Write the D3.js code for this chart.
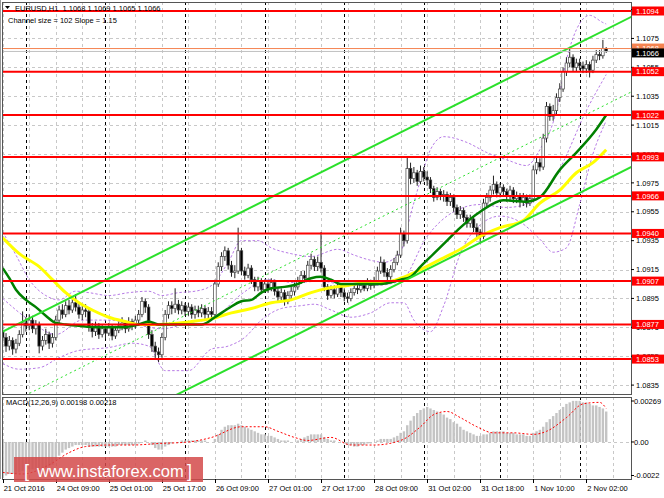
<!DOCTYPE html>
<html>
<head>
<meta charset="utf-8">
<script src="https://cdn.jsdelivr.net/npm/d3@7"></script>
<style>
body { margin: 0; background: #fff; }
svg { display: block; font-family: "Liberation Sans", Arial, sans-serif; }
.pre { white-space: pre; }
</style>
</head>
<body>
<div id="chart"></div>
<script>
// EURUSD H1 candles, bar 0 = 21 Oct 17:00
const firstOpen = 1.0872;
const close = [
  1.0868,1.0862,1.0866,1.0860,1.0864,1.0870,1.0878,1.0876,1.0880,1.0874,
  1.0877,1.0862,1.0866,1.0870,1.0864,1.0868,1.0880,1.0887,1.0884,1.0890,
  1.0887,1.0892,1.0889,1.0884,1.0887,1.0886,1.0875,1.0872,1.0876,1.0870,
  1.0874,1.0871,1.0875,1.0869,1.0873,1.0876,1.0878,1.0874,1.0879,1.0876,
  1.0880,1.0884,1.0893,1.0889,1.0870,1.0862,1.0858,1.0856,1.0868,1.0884,
  1.0890,1.0888,1.0891,1.0887,1.0890,1.0886,1.0889,1.0884,1.0887,1.0885,
  1.0888,1.0884,1.0886,1.0884,1.0905,1.0917,1.0924,1.0928,1.0918,1.0913,
  1.0914,1.0928,1.0914,1.0911,1.0916,1.0908,1.0903,1.0907,1.0901,1.0905,
  1.0902,1.0906,1.0900,1.0896,1.0899,1.0893,1.0897,1.0900,1.0903,1.0907,
  1.0911,1.0909,1.0918,1.0922,1.0917,1.0920,1.0916,1.0903,1.0897,1.0901,
  1.0898,1.0903,1.0899,1.0896,1.0895,1.0899,1.0902,1.0901,1.0904,1.0902,
  1.0906,1.0904,1.0907,1.0914,1.0920,1.0913,1.0910,1.0915,1.0920,1.0925,
  1.0940,1.0935,1.0985,1.0978,1.0982,1.0976,1.0983,1.0979,1.0977,1.0971,
  1.0965,1.0969,1.0966,1.0967,1.0962,1.0965,1.0958,1.0953,1.0956,1.0951,
  1.0947,1.0950,1.0944,1.0941,1.0938,1.0961,1.0965,1.0970,1.0974,1.0968,
  1.0972,1.0969,1.0966,1.0970,1.0964,1.0966,1.0962,1.0965,1.0961,1.0964,
  1.0984,1.0989,1.0986,1.1006,1.1028,1.1021,1.1025,1.1034,1.1040,1.1052,
  1.1058,1.1062,1.1055,1.1058,1.1056,1.1054,1.1057,1.1053,1.1060,1.1064,
  1.1063,1.1068,1.1066
];
const high = [
  1.0875,1.0871,1.0869,1.0868,1.0867,1.0873,1.0886,1.0882,1.0884,1.0883,
  1.0880,1.0879,1.0869,1.0874,1.0872,1.0871,1.0883,1.0890,1.0891,1.0893,
  1.0894,1.0895,1.0898,1.0892,1.0890,1.0891,1.0889,1.0878,1.0879,1.0878,
  1.0877,1.0876,1.0878,1.0877,1.0876,1.0879,1.0882,1.0880,1.0882,1.0881,
  1.0883,1.0887,1.0896,1.0895,1.0891,1.0873,1.0865,1.0861,1.0871,1.0887,
  1.0893,1.0893,1.0902,1.0894,1.0893,1.0892,1.0892,1.0891,1.0890,1.0890,
  1.0891,1.0890,1.0889,1.0889,1.0908,1.0920,1.0927,1.0931,1.0930,1.0921,
  1.0918,1.0944,1.0930,1.0917,1.0919,1.0918,1.0910,1.0910,1.0909,1.0908,
  1.0908,1.0909,1.0908,1.0902,1.0902,1.0901,1.0900,1.0903,1.0906,1.0910,
  1.0914,1.0914,1.0921,1.0926,1.0924,1.0924,1.0941,1.0918,1.0905,1.0904,
  1.0904,1.0906,1.0905,1.0902,1.0899,1.0902,1.0905,1.0905,1.0907,1.0906,
  1.0909,1.0908,1.0910,1.0917,1.0924,1.0922,1.0916,1.0918,1.0923,1.0928,
  1.0944,1.0942,1.0993,1.0989,1.0986,1.0984,1.0987,1.0986,1.0983,1.0979,
  1.0973,1.0972,1.0971,1.0970,1.0969,1.0968,1.0967,1.0960,1.0959,1.0958,
  1.0953,1.0953,1.0952,1.0947,1.0943,1.0964,1.0968,1.0973,1.0980,1.0976,
  1.0975,1.0974,1.0971,1.0973,1.0972,1.0969,1.0968,1.0968,1.0967,1.0967,
  1.0987,1.0993,1.0992,1.1009,1.1031,1.1030,1.1029,1.1037,1.1044,1.1055,
  1.1062,1.1069,1.1064,1.1061,1.1061,1.1059,1.1060,1.1059,1.1063,1.1067,
  1.1067,1.1074,1.1069
];
const low = [
  1.0864,1.0858,1.0859,1.0856,1.0857,1.0862,1.0868,1.0872,1.0873,1.0871,
  1.0870,1.0857,1.0859,1.0863,1.0860,1.0861,1.0866,1.0878,1.0881,1.0882,
  1.0884,1.0885,1.0886,1.0881,1.0880,1.0882,1.0872,1.0868,1.0869,1.0867,
  1.0868,1.0867,1.0869,1.0866,1.0867,1.0871,1.0873,1.0871,1.0872,1.0873,
  1.0874,1.0877,1.0882,1.0885,1.0867,1.0858,1.0853,1.0851,1.0854,1.0866,
  1.0881,1.0884,1.0885,1.0884,1.0884,1.0883,1.0883,1.0881,1.0881,1.0882,
  1.0882,1.0881,1.0881,1.0880,1.0882,1.0903,1.0914,1.0921,1.0915,1.0910,
  1.0909,1.0912,1.0911,1.0908,1.0909,1.0905,1.0900,1.0900,1.0898,1.0899,
  1.0899,1.0900,1.0897,1.0892,1.0893,1.0890,1.0891,1.0894,1.0897,1.0901,
  1.0905,1.0906,1.0907,1.0915,1.0914,1.0914,1.0913,1.0900,1.0894,1.0895,
  1.0895,1.0896,1.0896,1.0893,1.0892,1.0893,1.0897,1.0898,1.0899,1.0900,
  1.0900,1.0901,1.0902,1.0905,1.0912,1.0910,1.0907,1.0908,1.0913,1.0918,
  1.0923,1.0931,1.0933,1.0974,1.0975,1.0973,1.0974,1.0976,1.0973,1.0968,
  1.0962,1.0963,1.0963,1.0962,1.0959,1.0959,1.0955,1.0950,1.0950,1.0948,
  1.0944,1.0944,1.0941,1.0937,1.0933,1.0936,1.0958,1.0962,1.0967,1.0965,
  1.0965,1.0966,1.0962,1.0963,1.0961,1.0961,1.0958,1.0959,1.0958,1.0959,
  1.0962,1.0981,1.0983,1.0984,1.1003,1.1018,1.1018,1.1022,1.1031,1.1038,
  1.1049,1.1055,1.1052,1.1052,1.1053,1.1051,1.1051,1.1048,1.1051,1.1058,
  1.1060,1.1061,1.1065
];

// moving averages and bollinger bands, read as [bar, price]
const maGreen = [[0,1.0916],[2,1.0909],[4,1.0901],[7,1.0894],[10,1.0889],[13,1.0883],[16,1.0878],[19,1.0877],
  [23,1.0876],[29,1.0875],[35,1.0875],[41,1.0877],[44,1.0879],[47,1.0877],[52,1.0877],[60,1.0877],[64,1.0882],
  [68,1.0888],[72,1.0893],[75,1.0894],[78,1.0899],[81,1.0902],[85,1.0903],[89,1.0905],[93,1.0909],[96,1.0910],
  [99,1.0908],[102,1.0905],[108,1.0905],[114,1.0905],[120,1.0908],[123,1.0910],[126,1.0917],[130,1.0926],
  [134,1.0935],[138,1.0944],[144,1.0955],[151,1.0963],[158,1.0962],[162,1.0965],[168,1.0984],[173,1.0996],
  [179,1.1012],[182,1.1022]];
const maYellow = [[0,1.0937],[5,1.0926],[11,1.0917],[15,1.0908],[19,1.0899],[23,1.0892],[27,1.0887],[32,1.0882],
  [37,1.0879],[41,1.0877],[47,1.0877],[57,1.0879],[63,1.0881],[69,1.0885],[75,1.0888],[81,1.0892],[87,1.0894],
  [93,1.0899],[98,1.0902],[104,1.0904],[110,1.0906],[115,1.0906],[120,1.0909],[126,1.0915],[132,1.0922],
  [138,1.0929],[144,1.0938],[150,1.0944],[157,1.0949],[162,1.0961],[168,1.0970],[173,1.0982],[178,1.0989],
  [182,1.0998]];
const bandUpper = [[0,1.0941],[4,1.0925],[8,1.0908],[13,1.0897],[17,1.0894],[22,1.0900],[26,1.0899],[32,1.0897],
  [38,1.0899],[44,1.0900],[48,1.0897],[53,1.0899],[58,1.0900],[63,1.0904],[68,1.0920],[72,1.0935],[77,1.0935],
  [81,1.0930],[87,1.0926],[93,1.0924],[101,1.0929],[106,1.0925],[110,1.0922],[115,1.0920],[120,1.0927],
  [123,1.0953],[126,1.0977],[129,1.0998],[133,1.1007],[140,1.1003],[146,1.0996],[152,1.0991],[158,1.0987],
  [162,1.0998],[167,1.1025],[170,1.1060],[173,1.1081],[177,1.1091],[181,1.1086],[182,1.1085]];
const bandMiddle = [[0,1.0895],[8,1.0880],[16,1.0870],[24,1.0880],[32,1.0880],[40,1.0877],[48,1.0874],[56,1.0878],
  [64,1.0882],[72,1.0898],[80,1.0908],[88,1.0906],[96,1.0907],[104,1.0904],[112,1.0904],[120,1.0907],
  [128,1.0938],[136,1.0955],[144,1.0960],[152,1.0958],[160,1.0962],[168,1.0985],[176,1.1025],[182,1.1050]];
const bandLower = [[0,1.0850],[5,1.0846],[11,1.0847],[17,1.0854],[23,1.0859],[32,1.0861],[39,1.0864],[44,1.0862],
  [49,1.0845],[56,1.0845],[63,1.0860],[68,1.0862],[73,1.0868],[78,1.0880],[84,1.0888],[90,1.0890],[94,1.0891],
  [99,1.0887],[105,1.0882],[111,1.0885],[117,1.0892],[121,1.0892],[124,1.0880],[129,1.0872],[133,1.0890],
  [138,1.0926],[144,1.0946],[150,1.0952],[156,1.0948],[162,1.0936],[166,1.0927],[170,1.0930],[174,1.0960],
  [178,1.0995],[182,1.1018]];

// regression channel
const channelUpper = [[0,1.0872],[189.6,1.1090]];
const channelSize = 0.0104;

// horizontal levels
const levels = [1.1094, 1.1052, 1.1022, 1.0993, 1.0966, 1.0940, 1.0907, 1.0877, 1.0853];
const askPrice = 1.1068;
const bidPrice = 1.1066;
const priceTicks = d3.range(10835, 11096, 20).map(v => v / 10000);

// MACD histogram and signal
const macd = [
  -0.0022,-0.0022,-0.0021,-0.0021,-0.0021,-0.0020,-0.0019,-0.0019,-0.0018,-0.0018,
  -0.0018,-0.0018,-0.0017,-0.0017,-0.0016,-0.0015,-0.0012,-0.0009,-0.0007,-0.0005,
  -0.0004,-0.0003,-0.0002,-0.0002,-0.0002,-0.0002,-0.0003,-0.0003,-0.0003,-0.0003,
  -0.0003,-0.0003,-0.0003,-0.0003,-0.0003,-0.0002,-0.0002,-0.0002,-0.0002,-0.0002,
  -0.0002,-0.0001,0.0000,0.0001,0.0000,-0.0002,-0.0004,-0.0005,-0.0005,-0.0003,
  -0.0002,-0.0001,0.0000,0.0000,0.0001,0.0001,0.0001,0.0001,0.0001,0.0001,
  0.0001,0.0001,0.0000,0.0000,0.0002,0.0005,0.0008,0.0010,0.0011,0.0011,
  0.0011,0.0012,0.0011,0.0010,0.0009,0.0008,0.0007,0.0006,0.0005,0.0005,
  0.0004,0.0004,0.0003,0.0002,0.0001,0.0001,0.0001,0.0000,0.0000,0.0001,
  0.0002,0.0003,0.0004,0.0005,0.0005,0.0005,0.0005,0.0003,0.0002,0.0001,
  0.0001,0.0000,0.0000,-0.0001,-0.0002,-0.0002,-0.0003,-0.0003,-0.0002,-0.0002,
  -0.0001,-0.0001,0.0000,0.0001,0.0002,0.0002,0.0002,0.0002,0.0003,0.0004,
  0.0006,0.0007,0.0011,0.0014,0.0017,0.0019,0.0021,0.0022,0.0023,0.0022,
  0.0021,0.0020,0.0019,0.0018,0.0016,0.0015,0.0013,0.0012,0.0010,0.0008,
  0.0007,0.0006,0.0005,0.0004,0.0004,0.0005,0.0005,0.0006,0.0007,0.0007,
  0.0007,0.0007,0.0006,0.0006,0.0006,0.0005,0.0005,0.0005,0.0004,0.0004,
  0.0006,0.0007,0.0008,0.0010,0.0013,0.0015,0.0017,0.0019,0.0021,0.0023,
  0.0025,0.0026,0.0027,0.0027,0.0027,0.0026,0.0026,0.0025,0.0024,0.0024,
  0.0023,0.0022,0.0020
];
const signal = [[0,-0.0020],[6,-0.0021],[14,-0.0015],[20,-0.0007],[25,-0.0003],[32,-0.0002],[39,-0.0002],
  [47,-0.0001],[56,0.0000],[63,0.0003],[72,0.0010],[79,0.0010],[83,0.0007],[88,0.0003],[92,0.0001],[99,0.0003],
  [105,-0.0002],[112,-0.0002],[120,0.0001],[126,0.0010],[130,0.0018],[134,0.0020],[138,0.0016],[143,0.0010],
  [148,0.0006],[154,0.0006],[160,0.0005],[164,0.0007],[170,0.0016],[175,0.0025],[180,0.0026],[182,0.0022]];
const macdTicks = [0.00269, 0, -0.0022];
const macdTickLabels = ["0.00269", "0.00", "-0.0022"];

// time axis
const timeLabels = ["21 Oct 2016","24 Oct 09:00","25 Oct 01:00","25 Oct 17:00","26 Oct 09:00","27 Oct 01:00",
  "27 Oct 17:00","28 Oct 09:00","31 Oct 02:00","31 Oct 18:00","1 Nov 10:00","2 Nov 02:00"];
const timeLabelBars = [0,16,32,48,64,80,96,112,128,144,160,176];
const daySeparators = [7,31,55,79,103,127,150,174];

const width = 664, height = 498;
const plot = { left: 2, right: 631, top: 2, bottom: 394 };
const sub = { top: 397, bottom: 479 };

const svg = d3.select("#chart").append("svg")
    .attr("width", width)
    .attr("height", height);

svg.append("rect").attr("width", width).attr("height", height).attr("fill", "#fff");

const x = d3.scaleLinear().domain([0, 189.6]).range([2.7, 631.4]);
const y = d3.scaleLinear().domain([1.0835, 1.1094]).range([385.1, 11]);
const ym = d3.scaleLinear().domain([-0.0022, 0.00269]).range([475.5, 401]);

svg.append("clipPath").attr("id", "clipMain")
  .append("rect")
    .attr("x", plot.left).attr("y", plot.top)
    .attr("width", plot.right - plot.left).attr("height", plot.bottom - plot.top);

svg.append("clipPath").attr("id", "clipSub")
  .append("rect")
    .attr("x", plot.left).attr("y", sub.top)
    .attr("width", plot.right - plot.left).attr("height", sub.bottom - sub.top);

// grid
const grid = svg.append("g");
grid.selectAll("line.hgrid")
  .data(priceTicks)
  .join("line")
    .attr("class", "hgrid")
    .attr("x1", plot.left).attr("x2", plot.right)
    .attr("y1", d => Math.round(y(d)) + 0.5).attr("y2", d => Math.round(y(d)) + 0.5)
    .attr("stroke", "#c8c8c8").attr("stroke-dasharray", "3,3");

const gridBars = d3.range(0, 190, 8);
[[plot.top, plot.bottom], [sub.top, sub.bottom]].forEach(([t, b]) => {
    grid.append("g").selectAll("line")
      .data(gridBars)
      .join("line")
        .attr("x1", d => Math.round(x(d)) + 0.5).attr("x2", d => Math.round(x(d)) + 0.5)
        .attr("y1", t).attr("y2", b)
        .attr("stroke", "#c8c8c8").attr("stroke-dasharray", "3,3");
    grid.append("g").selectAll("line")
      .data(daySeparators)
      .join("line")
        .attr("x1", d => Math.round(x(d)) + 0.5).attr("x2", d => Math.round(x(d)) + 0.5)
        .attr("y1", t).attr("y2", b)
        .attr("stroke", "#000").attr("stroke-dasharray", "3,3");
});

grid.append("line")
    .attr("x1", plot.left).attr("x2", plot.right)
    .attr("y1", Math.round(ym(0)) + 0.5).attr("y2", Math.round(ym(0)) + 0.5)
    .attr("stroke", "#c8c8c8").attr("stroke-dasharray", "3,3");

const main = svg.append("g").attr("clip-path", "url(#clipMain)");

// bollinger bands
const line = d3.line().x(d => x(d[0])).y(d => y(d[1])).curve(d3.curveMonotoneX);
[bandUpper, bandMiddle, bandLower].forEach(band => {
    main.append("path")
        .attr("d", line(band))
        .attr("fill", "none")
        .attr("stroke", "#b77be6")
        .attr("stroke-width", 1)
        .attr("stroke-dasharray", "2.5,2");
});

// candles
const bars = close.map((c, i) => ({ i, o: i === 0 ? firstOpen : close[i - 1], h: high[i], l: low[i], c }));

main.append("g").selectAll("line")
  .data(bars)
  .join("line")
    .attr("x1", d => x(d.i)).attr("x2", d => x(d.i))
    .attr("y1", d => y(d.h)).attr("y2", d => y(d.l))
    .attr("stroke", "#222").attr("stroke-width", 1);

main.append("g").selectAll("rect")
  .data(bars)
  .join("rect")
    .attr("x", d => x(d.i) - 1.3)
    .attr("width", 2.6)
    .attr("y", d => y(Math.max(d.o, d.c)))
    .attr("height", d => Math.max(1, Math.abs(y(d.o) - y(d.c))))
    .attr("fill", d => d.c >= d.o ? "#fff" : "#000")
    .attr("stroke", "#444").attr("stroke-width", 0.7);

// moving averages
main.append("path")
    .attr("d", line(maYellow))
    .attr("fill", "none").attr("stroke", "#ffff00").attr("stroke-width", 3);
main.append("path")
    .attr("d", line(maGreen))
    .attr("fill", "none").attr("stroke", "#008000").attr("stroke-width", 2.5);

// channel
const straight = d3.line().x(d => x(d[0])).y(d => y(d[1]));
const shift = (pts, dp) => pts.map(p => [p[0], p[1] - dp]);
main.append("path").attr("d", straight(channelUpper))
    .attr("stroke", "#2be02b").attr("stroke-width", 2).attr("fill", "none");
main.append("path").attr("d", straight(shift(channelUpper, channelSize)))
    .attr("stroke", "#2be02b").attr("stroke-width", 2).attr("fill", "none");
main.append("path").attr("d", straight(shift(channelUpper, channelSize / 2)))
    .attr("stroke", "#2be02b").attr("stroke-width", 1).attr("stroke-dasharray", "2,3").attr("fill", "none");

// bid / ask lines
main.append("line")
    .attr("x1", plot.left).attr("x2", plot.right)
    .attr("y1", y(askPrice)).attr("y2", y(askPrice))
    .attr("stroke", "#f58350").attr("stroke-width", 1);
main.append("line")
    .attr("x1", plot.left).attr("x2", plot.right)
    .attr("y1", y(bidPrice)).attr("y2", y(bidPrice))
    .attr("stroke", "#c0c0c0").attr("stroke-width", 1);

// support / resistance levels
main.append("g").selectAll("line")
  .data(levels)
  .join("line")
    .attr("x1", plot.left).attr("x2", plot.right)
    .attr("y1", d => y(d)).attr("y2", d => y(d))
    .attr("stroke", "#ff0000").attr("stroke-width", 2);

// MACD panel
const subG = svg.append("g").attr("clip-path", "url(#clipSub)");
subG.append("g").selectAll("rect")
  .data(macd)
  .join("rect")
    .attr("x", (d, i) => x(i) - 1.2)
    .attr("width", 2.4)
    .attr("y", d => Math.min(ym(d), ym(0)))
    .attr("height", d => Math.abs(ym(d) - ym(0)))
    .attr("fill", "#c4c4c4");

const macdLine = d3.line().x(d => x(d[0])).y(d => ym(d[1])).curve(d3.curveMonotoneX);
subG.append("path")
    .attr("d", macdLine(signal))
    .attr("fill", "none").attr("stroke", "#ff0000")
    .attr("stroke-width", 1).attr("stroke-dasharray", "2,2");

// panel borders
svg.append("rect")
    .attr("x", plot.left + 0.5).attr("y", plot.top + 0.5)
    .attr("width", plot.right - plot.left).attr("height", plot.bottom - plot.top)
    .attr("fill", "none").attr("stroke", "#555");
svg.append("rect")
    .attr("x", plot.left + 0.5).attr("y", sub.top + 0.5)
    .attr("width", plot.right - plot.left).attr("height", sub.bottom - sub.top)
    .attr("fill", "none").attr("stroke", "#555");
svg.append("line")
    .attr("x1", 0.5).attr("x2", 0.5).attr("y1", 0).attr("y2", sub.bottom)
    .attr("stroke", "#999");

// price axis
const axis = svg.append("g").attr("font-size", "7.5px").attr("fill", "#000");
axis.selectAll("line.tick")
  .data(priceTicks)
  .join("line")
    .attr("class", "tick")
    .attr("x1", plot.right).attr("x2", plot.right + 3)
    .attr("y1", d => y(d)).attr("y2", d => y(d))
    .attr("stroke", "#000");
axis.selectAll("text.tick")
  .data(priceTicks)
  .join("text")
    .attr("class", "tick")
    .attr("x", 636)
    .attr("y", d => y(d) + 2.7)
    .text(d => d.toFixed(4));

// level labels
const labelG = svg.append("g").attr("font-size", "7.5px");
levels.forEach(v => {
    labelG.append("rect")
        .attr("x", 632).attr("y", y(v) - 4.5)
        .attr("width", 32).attr("height", 9)
        .attr("fill", "#ff0000");
    labelG.append("text")
        .attr("x", 636).attr("y", y(v) + 2.7)
        .attr("fill", "#fff")
        .text(v.toFixed(4));
});
labelG.append("rect")
    .attr("x", 632).attr("y", y(askPrice) - 5)
    .attr("width", 32).attr("height", 9)
    .attr("fill", "#f58350");
labelG.append("text")
    .attr("x", 636).attr("y", y(askPrice) + 2.2)
    .attr("fill", "#fff")
    .text(askPrice.toFixed(4));
labelG.append("rect")
    .attr("x", 632).attr("y", y(bidPrice) - 3)
    .attr("width", 32).attr("height", 9)
    .attr("fill", "#000");
labelG.append("text")
    .attr("x", 636).attr("y", y(bidPrice) + 4.2)
    .attr("fill", "#fff")
    .text(bidPrice.toFixed(4));

// MACD axis
axis.selectAll("text.mtick")
  .data(macdTicks)
  .join("text")
    .attr("class", "mtick")
    .attr("x", 634)
    .attr("y", d => ym(d) + 2.7)
    .text((d, i) => macdTickLabels[i]);
axis.selectAll("line.mtick")
  .data(macdTicks)
  .join("line")
    .attr("class", "mtick")
    .attr("x1", plot.right).attr("x2", plot.right + 3)
    .attr("y1", d => ym(d)).attr("y2", d => ym(d))
    .attr("stroke", "#000");

// time axis
const timeG = svg.append("g").attr("font-size", "7.5px").attr("fill", "#000");
timeG.selectAll("line")
  .data(timeLabelBars)
  .join("line")
    .attr("x1", d => Math.round(x(d)) + 0.5).attr("x2", d => Math.round(x(d)) + 0.5)
    .attr("y1", sub.bottom).attr("y2", sub.bottom + 4)
    .attr("stroke", "#000");
timeG.selectAll("text")
  .data(timeLabelBars)
  .join("text")
    .attr("x", d => x(d) + 1)
    .attr("y", 491)
    .text((d, i) => timeLabels[i]);

// header texts
const head = svg.append("g").attr("font-size", "7.5px").attr("fill", "#000");
head.append("path").attr("d", "M5,6 L10,6 L7.5,9 Z").attr("fill", "#000");
head.append("text").attr("class", "pre").attr("x", 15).attr("y", 10.5)
    .text("EURUSD,H1  1.1068 1.1069 1.1065 1.1066");
head.append("text").attr("x", 8).attr("y", 22.5)
    .text("Channel size = 102 Slope = 1.15");
head.append("text").attr("x", 6).attr("y", 405)
    .text("MACD(12,26,9) 0.00198 0.00218");

// watermark
const mark = svg.append("g");
mark.append("rect")
    .attr("x", 14).attr("y", 457).attr("width", 189).attr("height", 25)
    .attr("fill", "#d44a4a").attr("opacity", 0.85);
mark.append("text")
    .attr("x", 24).attr("y", 477)
    .attr("font-size", "18px").attr("fill", "#fff")
    .text("[");
mark.append("text")
    .attr("x", 37).attr("y", 476.5)
    .attr("font-size", "16.5px").attr("fill", "#fff")
    .text("www.instaforex.com");
mark.append("text")
    .attr("x", 187).attr("y", 477)
    .attr("font-size", "18px").attr("fill", "#fff")
    .text("]");
</script>
</body>
</html>
